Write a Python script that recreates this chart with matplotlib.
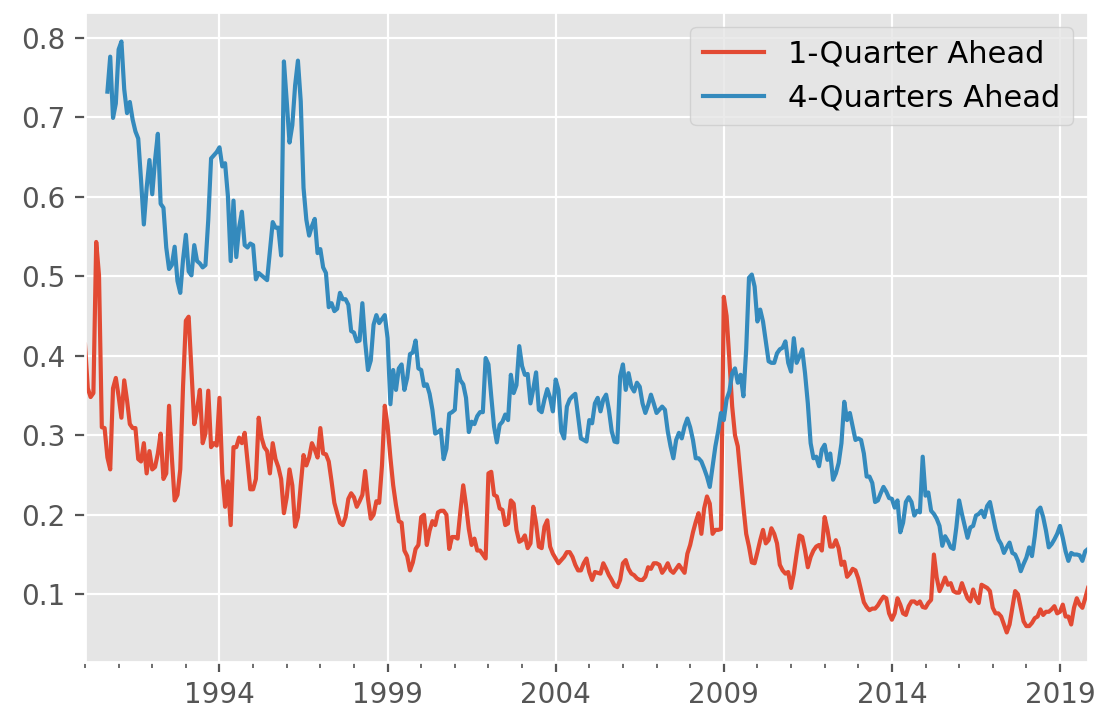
import matplotlib
matplotlib.use("Agg")
import matplotlib.pyplot as plt
import pandas as pd

plt.style.use("ggplot")

# monthly forecast-error series
start_1q = "1990-01"
start_4q = "1990-09"
labels = ["1-Quarter Ahead", "4-Quarters Ahead"]

q1_ahead = [
    0.414, 0.359, 0.348, 0.353, 0.543, 0.501, 0.310, 0.309, 0.272, 0.257, 0.359, 0.372,
    0.349, 0.322, 0.369, 0.344, 0.314, 0.309, 0.309, 0.270, 0.267, 0.290, 0.252, 0.280,
    0.257, 0.260, 0.277, 0.302, 0.245, 0.252, 0.337, 0.272, 0.218, 0.225, 0.257, 0.362,
    0.444, 0.449, 0.382, 0.314, 0.332, 0.357, 0.290, 0.302, 0.356, 0.285, 0.290, 0.287,
    0.347, 0.252, 0.210, 0.242, 0.187, 0.285, 0.285, 0.297, 0.290, 0.303, 0.267, 0.232,
    0.232, 0.245, 0.322, 0.297, 0.285, 0.280, 0.252, 0.290, 0.270, 0.260, 0.245, 0.202,
    0.222, 0.257, 0.237, 0.185, 0.197, 0.237, 0.275, 0.262, 0.272, 0.290, 0.282, 0.272,
    0.309, 0.277, 0.276, 0.267, 0.242, 0.215, 0.202, 0.190, 0.187, 0.197, 0.220, 0.227,
    0.222, 0.210, 0.217, 0.225, 0.255, 0.220, 0.195, 0.200, 0.217, 0.215, 0.262, 0.337,
    0.312, 0.272, 0.237, 0.212, 0.192, 0.190, 0.155, 0.148, 0.130, 0.140, 0.157, 0.162,
    0.197, 0.200, 0.162, 0.180, 0.192, 0.187, 0.203, 0.205, 0.205, 0.200, 0.157, 0.172,
    0.172, 0.170, 0.205, 0.237, 0.212, 0.182, 0.162, 0.170, 0.155, 0.155, 0.150, 0.145,
    0.252, 0.254, 0.225, 0.223, 0.208, 0.206, 0.187, 0.189, 0.218, 0.214, 0.181, 0.166,
    0.168, 0.174, 0.158, 0.164, 0.210, 0.189, 0.160, 0.158, 0.185, 0.193, 0.160, 0.151,
    0.145, 0.139, 0.143, 0.147, 0.153, 0.153, 0.147, 0.137, 0.130, 0.130, 0.139, 0.145,
    0.128, 0.118, 0.128, 0.127, 0.126, 0.139, 0.132, 0.124, 0.118, 0.111, 0.109, 0.118,
    0.139, 0.143, 0.132, 0.126, 0.124, 0.120, 0.118, 0.118, 0.122, 0.134, 0.132, 0.139,
    0.139, 0.137, 0.127, 0.132, 0.139, 0.130, 0.127, 0.132, 0.137, 0.132, 0.127, 0.151,
    0.162, 0.178, 0.191, 0.202, 0.176, 0.208, 0.223, 0.214, 0.176, 0.181, 0.181, 0.182,
    0.474, 0.450, 0.395, 0.336, 0.300, 0.286, 0.248, 0.210, 0.176, 0.160, 0.140, 0.139,
    0.153, 0.168, 0.181, 0.164, 0.168, 0.183, 0.176, 0.164, 0.137, 0.130, 0.126, 0.128,
    0.108, 0.126, 0.151, 0.174, 0.172, 0.155, 0.134, 0.147, 0.155, 0.160, 0.162, 0.155,
    0.197, 0.181, 0.160, 0.160, 0.168, 0.158, 0.137, 0.141, 0.122, 0.126, 0.132, 0.130,
    0.120, 0.105, 0.090, 0.084, 0.080, 0.082, 0.082, 0.086, 0.092, 0.097, 0.095, 0.076,
    0.068, 0.076, 0.095, 0.087, 0.076, 0.074, 0.085, 0.091, 0.091, 0.088, 0.091, 0.084,
    0.083, 0.089, 0.093, 0.150, 0.121, 0.104, 0.112, 0.121, 0.112, 0.114, 0.104, 0.102,
    0.102, 0.114, 0.104, 0.095, 0.091, 0.106, 0.095, 0.089, 0.112, 0.110, 0.108, 0.104,
    0.083, 0.076, 0.076, 0.072, 0.062, 0.052, 0.062, 0.083, 0.104, 0.100, 0.083, 0.066,
    0.060, 0.060, 0.064, 0.070, 0.072, 0.081, 0.074, 0.078, 0.078, 0.081, 0.085, 0.076,
    0.078, 0.087, 0.072, 0.072, 0.062, 0.083, 0.095, 0.087, 0.083, 0.095, 0.108,
]

q4_ahead = [
    0.732, 0.776, 0.699, 0.717,
    0.785, 0.795, 0.735, 0.705, 0.719, 0.697, 0.682, 0.673, 0.621, 0.565, 0.611, 0.646,
    0.603, 0.646, 0.679, 0.591, 0.586, 0.536, 0.509, 0.514, 0.537, 0.494, 0.479, 0.521,
    0.552, 0.506, 0.501, 0.539, 0.519, 0.516, 0.511, 0.514, 0.571, 0.648, 0.652, 0.656,
    0.662, 0.638, 0.642, 0.601, 0.519, 0.595, 0.524, 0.561, 0.581, 0.539, 0.536, 0.541,
    0.539, 0.496, 0.504, 0.501, 0.498, 0.495, 0.531, 0.568, 0.561, 0.561, 0.526, 0.770,
    0.720, 0.668, 0.690, 0.740, 0.771, 0.720, 0.611, 0.571, 0.551, 0.563, 0.572, 0.529,
    0.534, 0.511, 0.504, 0.461, 0.466, 0.456, 0.459, 0.479, 0.471, 0.471, 0.464, 0.431,
    0.429, 0.418, 0.419, 0.466, 0.417, 0.382, 0.394, 0.439, 0.451, 0.441, 0.446, 0.451,
    0.422, 0.339, 0.382, 0.357, 0.384, 0.389, 0.357, 0.372, 0.402, 0.404, 0.419, 0.384,
    0.382, 0.362, 0.364, 0.352, 0.332, 0.302, 0.304, 0.307, 0.270, 0.283, 0.327, 0.329,
    0.332, 0.382, 0.369, 0.364, 0.347, 0.304, 0.317, 0.314, 0.324, 0.329, 0.329, 0.397,
    0.389, 0.349, 0.311, 0.291, 0.313, 0.317, 0.326, 0.319, 0.376, 0.353, 0.363, 0.412,
    0.387, 0.376, 0.377, 0.340, 0.358, 0.379, 0.332, 0.329, 0.345, 0.358, 0.347, 0.330,
    0.370, 0.357, 0.305, 0.296, 0.336, 0.345, 0.349, 0.352, 0.324, 0.296, 0.294, 0.292,
    0.319, 0.315, 0.340, 0.347, 0.330, 0.345, 0.351, 0.332, 0.305, 0.292, 0.291, 0.374,
    0.389, 0.357, 0.378, 0.361, 0.355, 0.366, 0.361, 0.340, 0.328, 0.338, 0.351, 0.340,
    0.328, 0.332, 0.336, 0.332, 0.305, 0.286, 0.271, 0.294, 0.303, 0.296, 0.311, 0.321,
    0.310, 0.294, 0.271, 0.271, 0.267, 0.258, 0.248, 0.235, 0.261, 0.286, 0.305, 0.328,
    0.319, 0.345, 0.355, 0.378, 0.384, 0.366, 0.376, 0.349, 0.408, 0.498, 0.502, 0.487,
    0.443, 0.458, 0.443, 0.418, 0.393, 0.391, 0.391, 0.403, 0.408, 0.410, 0.418, 0.391,
    0.380, 0.422, 0.391, 0.399, 0.408, 0.378, 0.340, 0.290, 0.271, 0.273, 0.261, 0.282,
    0.288, 0.269, 0.277, 0.244, 0.252, 0.265, 0.290, 0.342, 0.319, 0.328, 0.311, 0.294,
    0.296, 0.294, 0.277, 0.248, 0.248, 0.240, 0.216, 0.218, 0.227, 0.235, 0.229, 0.221,
    0.220, 0.209, 0.218, 0.178, 0.190, 0.216, 0.222, 0.216, 0.199, 0.205, 0.203, 0.273,
    0.224, 0.228, 0.205, 0.201, 0.195, 0.186, 0.161, 0.173, 0.167, 0.159, 0.157, 0.184,
    0.218, 0.201, 0.186, 0.171, 0.184, 0.186, 0.199, 0.201, 0.205, 0.197, 0.211, 0.216,
    0.199, 0.182, 0.169, 0.163, 0.152, 0.159, 0.165, 0.152, 0.150, 0.142, 0.129, 0.138,
    0.146, 0.159, 0.148, 0.173, 0.205, 0.209, 0.197, 0.180, 0.159, 0.163, 0.169, 0.176,
    0.186, 0.171, 0.154, 0.142, 0.152, 0.150, 0.150, 0.149, 0.142, 0.154, 0.157,
]

s1 = pd.Series(q1_ahead, index=pd.period_range(start_1q, periods=len(q1_ahead), freq="M"), name=labels[0])
s4 = pd.Series(q4_ahead, index=pd.period_range(start_4q, periods=len(q4_ahead), freq="M"), name=labels[1])
df = pd.concat([s1, s4], axis=1)

fig, ax = plt.subplots(figsize=(5.5, 3.565), dpi=200)
df.plot(ax=ax)
ax.set_position([85 / 1100, 51 / 713, 1003 / 1100, 650 / 713])
ax.legend(loc="upper right", fontsize=11)

fig.savefig("out.png", dpi=200)
